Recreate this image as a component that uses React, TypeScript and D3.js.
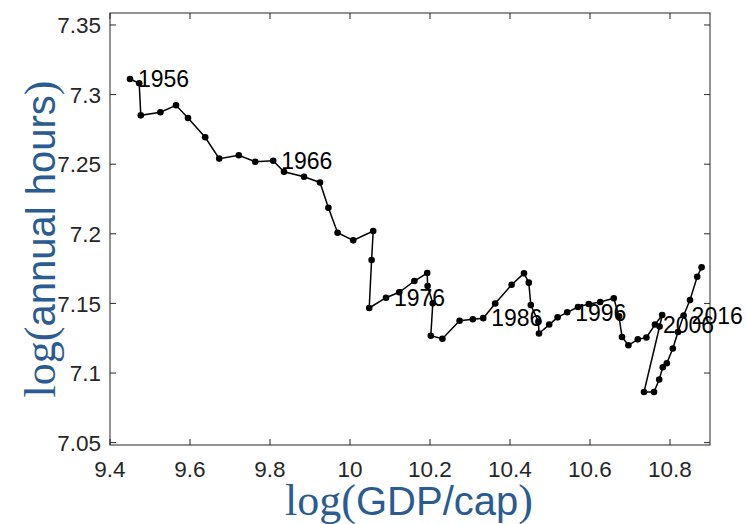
import React, { useEffect, useRef } from 'react';
import * as d3 from 'd3';

// log(GDP per capita), one value per year 1956..2019
const gdp = [
  9.450, 9.473, 9.477, 9.526, 9.565, 9.595, 9.638, 9.673, 9.722, 9.763,
  9.808, 9.835, 9.885, 9.925, 9.946, 9.969, 10.008, 10.058, 10.054, 10.048,
  10.090, 10.123, 10.161, 10.193, 10.194, 10.207, 10.202, 10.231, 10.274, 10.307,
  10.333, 10.363, 10.404, 10.435, 10.447, 10.452, 10.471, 10.4725, 10.498, 10.519,
  10.543, 10.570, 10.597, 10.6255, 10.6595, 10.6725, 10.680, 10.696, 10.7195, 10.741,
  10.7625, 10.7805, 10.774, 10.735, 10.760, 10.773, 10.782, 10.792, 10.807, 10.820,
  10.834, 10.850, 10.868, 10.879
];

// log(annual hours worked)
const hours = [
  7.3112, 7.3081, 7.2851, 7.2873, 7.2923, 7.2832, 7.2693, 7.2540, 7.2564, 7.2518,
  7.2525, 7.2446, 7.2410, 7.2369, 7.2187, 7.2008, 7.1953, 7.2020, 7.1812, 7.1467,
  7.1541, 7.1580, 7.1661, 7.1718, 7.1625, 7.1501, 7.1268, 7.1246, 7.1375, 7.1386,
  7.1394, 7.1499, 7.1634, 7.1716, 7.1649, 7.1489, 7.1369, 7.1284, 7.1348, 7.1400,
  7.1436, 7.1474, 7.1496, 7.1510, 7.1537, 7.1407, 7.1259, 7.1199, 7.1242, 7.1255,
  7.1348, 7.1417, 7.1334, 7.0864, 7.0864, 7.0953, 7.1041, 7.1070, 7.1176, 7.1295,
  7.1413, 7.1524, 7.1692, 7.1759
];

const firstYear = 1956;
const labelYears = [1956, 1966, 1976, 1986, 1996, 2006, 2016];

const xTicks = [9.4, 9.6, 9.8, 10, 10.2, 10.4, 10.6, 10.8];
const yTicks = [7.05, 7.1, 7.15, 7.2, 7.25, 7.3, 7.35];

const App = () => {
  const svgRef = useRef(null);

  useEffect(() => {
    const width = 746;
    const height = 524;
    const left = 110, right = 710, top = 13, bottom = 445;
    const axisColor = '#262626';
    const labelColor = '#2b5c91';
    const tickLen = 6;

    const svg = d3.select(svgRef.current)
      .attr('width', width)
      .attr('height', height);
    svg.selectAll('*').remove();

    const x = d3.scaleLinear().domain([9.4, 10.9]).range([left, right]);
    const y = d3.scaleLinear().domain([7.0483, 7.3586]).range([bottom, top]);

    const data = gdp.map((g, i) => ({ g, h: hours[i], year: firstYear + i }));

    // box
    svg.append('rect')
      .attr('x', left).attr('y', top)
      .attr('width', right - left).attr('height', bottom - top)
      .attr('fill', 'none')
      .attr('stroke', axisColor)
      .attr('stroke-width', 1);

    // ticks, inward on all four sides
    const tg = svg.append('g').attr('stroke', axisColor).attr('stroke-width', 1);
    xTicks.forEach(t => {
      tg.append('line').attr('x1', x(t)).attr('x2', x(t)).attr('y1', bottom).attr('y2', bottom - tickLen);
      tg.append('line').attr('x1', x(t)).attr('x2', x(t)).attr('y1', top).attr('y2', top + tickLen);
    });
    yTicks.forEach(t => {
      tg.append('line').attr('x1', left).attr('x2', left + tickLen).attr('y1', y(t)).attr('y2', y(t));
      tg.append('line').attr('x1', right).attr('x2', right - tickLen).attr('y1', y(t)).attr('y2', y(t));
    });

    // tick labels
    svg.append('g').selectAll('text')
      .data(xTicks).enter().append('text')
      .attr('x', d => x(d))
      .attr('y', 477)
      .attr('text-anchor', 'middle')
      .attr('font-family', 'Liberation Sans, Arial, sans-serif')
      .attr('font-size', 22.5)
      .attr('fill', axisColor)
      .text(d => String(d));

    svg.append('g').selectAll('text')
      .data(yTicks).enter().append('text')
      .attr('x', left - 9)
      .attr('y', d => y(d))
      .attr('dy', '0.36em')
      .attr('text-anchor', 'end')
      .attr('font-family', 'Liberation Sans, Arial, sans-serif')
      .attr('font-size', 22.5)
      .attr('fill', axisColor)
      .text(d => String(d));

    // trajectory
    const line = d3.line()
      .x(d => x(d.g))
      .y(d => y(d.h));

    svg.append('path')
      .datum(data)
      .attr('d', line)
      .attr('fill', 'none')
      .attr('stroke', '#000')
      .attr('stroke-width', 1.5);

    svg.append('g').selectAll('circle')
      .data(data).enter().append('circle')
      .attr('cx', d => x(d.g))
      .attr('cy', d => y(d.h))
      .attr('r', 3.3)
      .attr('fill', '#000');

    // year labels
    svg.append('g').selectAll('text')
      .data(data.filter(d => labelYears.includes(d.year))).enter().append('text')
      .attr('x', d => x(d.g) + 8)
      .attr('y', d => y(d.h))
      .attr('dy', '0.36em')
      .attr('font-family', 'Liberation Sans, Arial, sans-serif')
      .attr('font-size', 23)
      .attr('fill', '#000')
      .text(d => String(d.year));

    // axis labels: serif "log" and parentheses, sans inner text
    const xl = svg.append('text')
      .attr('x', (left + right) / 2 - 1)
      .attr('y', 515)
      .attr('text-anchor', 'middle')
      .attr('fill', labelColor);
    xl.append('tspan').attr('font-family', 'Liberation Serif, serif').attr('font-size', 44).text('log(');
    xl.append('tspan').attr('font-family', 'Liberation Sans, Arial, sans-serif').attr('font-size', 40).text('GDP/cap');
    xl.append('tspan').attr('font-family', 'Liberation Serif, serif').attr('font-size', 44).text(')');

    const yl = svg.append('text')
      .attr('transform', 'translate(55,239) rotate(-90)')
      .attr('text-anchor', 'middle')
      .attr('fill', labelColor);
    yl.append('tspan').attr('font-family', 'Liberation Serif, serif').attr('font-size', 44).text('log(');
    yl.append('tspan').attr('font-family', 'Liberation Sans, Arial, sans-serif').attr('font-size', 40).text('annual hours');
    yl.append('tspan').attr('font-family', 'Liberation Serif, serif').attr('font-size', 44).text(')');
  }, []);

  return (
    <svg ref={svgRef} style={{ position: 'absolute', left: 0, top: 0, background: '#fff' }}></svg>
  );
};

export default App;
